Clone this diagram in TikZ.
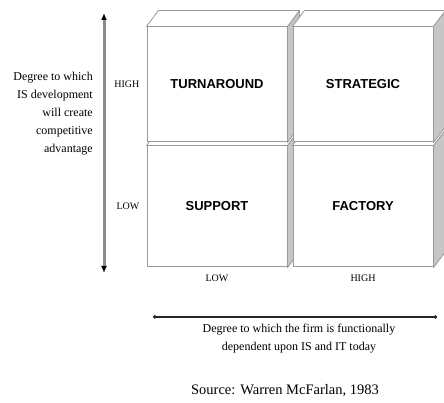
\documentclass[tikz,border=0pt]{standalone}
\usepackage{fontspec}
\setmainfont{Liberation Serif}
\newfontfamily\quadfont{Liberation Sans}
\usetikzlibrary{arrows.meta,positioning}
\definecolor{edgeGray}{HTML}{9A9A9A}
\definecolor{sideGray}{HTML}{C6C6C6}
\definecolor{axisGray}{HTML}{8C8C8C}
\newcommand\boxfaces[1]{%
  \filldraw[face,fill=sideGray] (#1.south east) -- ([shift={(12,16)}]#1.south east)
    -- ([shift={(12,16)}]#1.north east) -- (#1.north east) -- cycle;
  \filldraw[face,fill=white] (#1.north west) -- ([shift={(12,16)}]#1.north west)
    -- ([shift={(12,16)}]#1.north east) -- (#1.north east) -- cycle;}
\begin{document}
\begin{tikzpicture}[x=1pt,y=1pt,every node/.style={font=\fontsize{12}{18}\selectfont},
          front/.style={draw=edgeGray,fill=white,line width=1pt,minimum width=140pt,inner sep=0pt,
            font=\quadfont\bfseries\fontsize{13}{15}\selectfont},
          face/.style={draw=edgeGray,line width=0.8pt,line join=round},
          level/.style={inner sep=0pt,font=\fontsize{10}{12}\selectfont}]
        \useasboundingbox (0,0) rectangle (444,403);
        \node[front,minimum height=121pt] (bl) at (217,196.5) {SUPPORT};
        \boxfaces{bl}
        \node[front,minimum height=121pt,right=5pt of bl] (br) {FACTORY};
        \boxfaces{br}
        \node[front,minimum height=115pt,above=3pt of bl] (tl) {TURNAROUND};
        \boxfaces{tl}
        \node[front,minimum height=115pt,right=5pt of tl] (tr) {STRATEGIC};
        \boxfaces{tr}
        \node[level,left=7pt of tl] (hiy) {HIGH};
        \node[level,left=7pt of bl] (loy) {LOW};
        \node[level,below=7pt of bl] (lox) {LOW};
        \node[level,below=7pt of br] (hix) {HIGH};
        \coordinate (vtop) at (104,390);
        \coordinate (vbot) at (104,130);
        \draw[axisGray,line width=3pt,{Latex[length=7pt,width=6pt,color=black]}-{Latex[length=7pt,width=6pt,color=black]}] (vbot) -- (vtop);
        \coordinate (hleft) at (153,86);
        \coordinate (hright) at (437,86);
        \draw[black!85,line width=1.2pt,{Circle[length=3.5pt]}-{Circle[length=3.5pt]}] (hleft) -- (hright);
        \node[anchor=east,align=right,inner sep=0pt] (ylab) at (93,289) {Degree to which\\IS development\\will create\\competitive\\advantage};
        \node[align=center,inner sep=0pt] (xlab) at (299,64) {Degree to which the firm is functionally\\dependent upon IS and IT today};
        \node[inner sep=0pt,font=\fontsize{14.5}{16}\selectfont] (src) at (285,12) {Source: Warren McFarlan, 1983};
      \end{tikzpicture}
\end{document}
